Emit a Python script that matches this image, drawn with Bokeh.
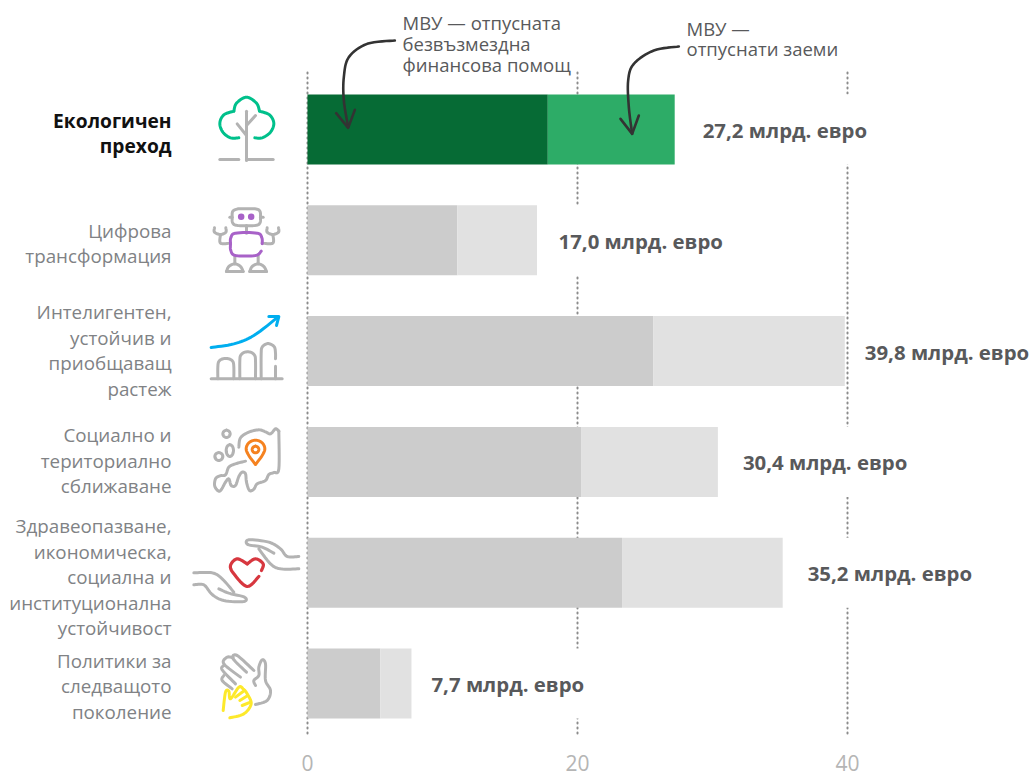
from bokeh.plotting import figure
from bokeh.models import Range1d, ColumnDataSource
from bokeh.core.properties import value
from bokeh.embed import file_html
from bokeh.resources import INLINE

# Recovery facility allocations by pillar, billions of euro
pillars = [
    ["Екологичен", "преход"],
    ["Цифрова", "трансформация"],
    ["Интелигентен,", "устойчив и", "приобщаващ", "растеж"],
    ["Социално и", "териториално", "сближаване"],
    ["Здравеопазване,", "икономическа,", "социална и", "институционална", "устойчивост"],
    ["Политики за", "следващото", "поколение"],
]
grants = [17.8, 11.1, 25.6, 20.3, 23.3, 5.4]
totals = [27.2, 17.0, 39.8, 30.4, 35.2, 7.7]
total_labels = ["27,2 млрд. евро", "17,0 млрд. евро", "39,8 млрд. евро",
                "30,4 млрд. евро", "35,2 млрд. евро", "7,7 млрд. евро"]
x_ticks = [0, 20, 40]

FONT = "Open Sans"
W, H = 1032, 776
X0, PX_PER_UNIT = 307.0, 13.5
ROW0, ROW_STEP = 129.0, 110.8


def xd(px):
    return (px - X0) / PX_PER_UNIT


def yd(py):
    return (py - ROW0) / ROW_STEP


p = figure(width=W, height=H,
           x_range=Range1d(xd(0), xd(W)), y_range=Range1d(yd(H), yd(0)),
           output_backend="svg", toolbar_location=None,
           min_border=0, min_border_left=0, min_border_right=0,
           min_border_top=0, min_border_bottom=0,
           outline_line_color=None, background_fill_color="white",
           border_fill_color="white", x_axis_location=None, y_axis_location=None)
p.grid.visible = False

# Dotted reference lines behind the bars, with their scale values underneath
p.segment(x0=x_ticks, x1=x_ticks, y0=[yd(72)] * 3, y1=[yd(737)] * 3,
          line_color="#8c8c8c", line_width=2, line_dash="1 4", line_cap="round")
p.text(x=x_ticks, y=[yd(762)] * 3, text=[str(t) for t in x_ticks],
       text_font=value(FONT), text_font_size="21px", text_color="#b5b5b5",
       text_align="center", text_baseline="middle")

# Stacked bars: grants first, loans on top; the first pillar is highlighted
rows = list(range(len(totals)))
BAR_H = 70 / ROW_STEP
grant_colors = ["#066b35"] + ["#cccccc"] * 5
loan_colors = ["#2dac67"] + ["#e1e1e1"] * 5
p.hbar(y=rows, left=[0] * 6, right=grants, height=BAR_H,
       fill_color=grant_colors, line_color=None)
p.hbar(y=rows, left=grants, right=totals, height=BAR_H,
       fill_color=loan_colors, line_color=None)

# Total labels to the right of each bar, on a white band that interrupts the dotted lines
gaps = [28, 21.5, 20, 25, 25, 20]
label_widths = [164, 164, 164, 164, 164, 153]
band_left = [t + g / PX_PER_UNIT for t, g in zip(totals, gaps)]
band_right = [b + w / PX_PER_UNIT for b, w in zip(band_left, label_widths)]
p.hbar(y=rows, left=band_left, right=band_right, height=BAR_H,
       fill_color="white", line_color=None)
p.text(x=totals, y=rows, text=total_labels, x_offset=gaps, y_offset=[0.5] * 6,
       text_font=value(FONT), text_font_style="bold", text_font_size="20.4px",
       text_color="#58595b", text_align="left", text_baseline="middle")

# Pillar names, one glyph per line, right-aligned
shifts = [3.5, 3, -0.5, -1, 4.5, 2.5]
LINE_GAP = 25.5
names, ny, noff, ncol, nstyle, nsize = [], [], [], [], [], []
for i, lines in enumerate(pillars):
    for j, s in enumerate(lines):
        names.append(s)
        ny.append(i)
        noff.append(shifts[i] + (j - (len(lines) - 1) / 2) * LINE_GAP)
        ncol.append("#111111" if i == 0 else "#808285")
        nstyle.append("bold" if i == 0 else "normal")
        nsize.append("19.2px" if i == 0 else "18.8px")
src = ColumnDataSource(dict(x=[xd(171)] * len(names), y=ny, t=names, o=noff, c=ncol, s=nstyle, z=nsize))
p.text(x="x", y="y", text="t", y_offset="o", text_color="c", text_font_style="s",
       text_font_size="z", source=src, text_font=value(FONT),
       text_align="right", text_baseline="middle")

# Callout texts
callouts = [(402, 22, "МВУ — отпусната"), (402, 43, "безвъзмездна"),
            (402, 64, "финансова помощ"), (686, 28, "МВУ —"), (686, 48, "отпуснати заеми")]
p.text(x=[xd(c[0]) for c in callouts], y=[yd(c[1]) for c in callouts],
       text=[c[2] for c in callouts], text_font=value(FONT), text_font_size="18.5px",
       text_color="#58595b", text_align="left", text_baseline="middle")


def smooth(pts, n=8):
    """Catmull-Rom sampling of a stroke, so hand-drawn shapes stay round."""
    if len(pts) < 3:
        return list(pts)
    out = []
    P = [pts[0]] + list(pts) + [pts[-1]]
    for i in range(1, len(P) - 2):
        a, b, c, d = P[i - 1], P[i], P[i + 1], P[i + 2]
        for k in range(n):
            t = k / n
            f = lambda q: 0.5 * (2 * b[q] + (c[q] - a[q]) * t
                                 + (2 * a[q] - 5 * b[q] + 4 * c[q] - d[q]) * t * t
                                 + (3 * b[q] - a[q] - 3 * c[q] + d[q]) * t ** 3)
            out.append((f(0), f(1)))
    out.append(pts[-1])
    return out


def ring(cx, cy, rx, ry=None):
    ry = rx if ry is None else ry
    return [(cx, cy - ry), (cx + .7 * rx, cy - .7 * ry), (cx + rx, cy), (cx + .7 * rx, cy + .7 * ry),
            (cx, cy + ry), (cx - .7 * rx, cy + .7 * ry), (cx - rx, cy), (cx - .7 * rx, cy - .7 * ry),
            (cx, cy - ry)]


def draw(strokes, ox, oy, color, width=3, scale=1 / 3, curved=True):
    xs, ys = [], []
    for s in strokes:
        pts = smooth(s) if curved else s
        xs.append([xd(ox + a * scale) for a, _ in pts])
        ys.append([yd(oy + b * scale) for _, b in pts])
    p.multi_line(xs, ys, line_color=color, line_width=width, line_cap="round", line_join="round")


GRAY = "#b3b3b3"

# Tree icon
draw([[(145, 172), (120, 172), (97, 155), (88, 128), (100, 103), (130, 92)],
      [(130, 92), (138, 68), (168, 50), (198, 68), (207, 92)],
      [(207, 92), (237, 103), (250, 128), (240, 155), (215, 172), (193, 172)]],
     190, 80, "#00c08b")
draw([[(168, 240), (168, 92)], [(140, 130), (168, 165)], [(195, 105), (168, 135)],
      [(88, 237), (145, 237)], [(168, 237), (248, 237)]], 190, 80, GRAY, curved=False)

# Robot icon
draw([[(142, 385), (193, 385), (208, 392), (210, 410), (208, 428), (193, 435), (142, 435), (127, 428), (125, 410), (127, 392), (142, 385)],
      [(118, 410), (125, 410)], [(210, 410), (218, 410)],
      [(120, 488), (90, 488), (90, 462)], [(72, 442), (72, 455), (90, 462), (106, 455), (106, 442)],
      [(215, 488), (247, 488), (247, 462)], [(230, 442), (230, 455), (247, 462), (264, 455), (264, 442)],
      [(133, 525), (133, 550)], [(203, 525), (203, 550)],
      [(108, 573), (115, 558), (133, 550), (150, 558), (158, 573)], [(108, 573), (158, 573)],
      [(178, 573), (185, 558), (203, 550), (220, 558), (228, 573)], [(178, 573), (228, 573)],
      [(168, 435), (168, 458)]],
     190, 80, GRAY)
draw([[(215, 490), (214, 472), (200, 458), (135, 458), (121, 472), (120, 490), (121, 510), (135, 525), (195, 525), (212, 512)]],
     190, 80, "#a862c8")
p.scatter([xd(190 + 152 / 3), xd(190 + 182 / 3)], [yd(80 + 409 / 3)] * 2,
          size=6.5, fill_color="#a862c8", line_color=None)

# Growth chart icon
draw([[(62, 141), (130, 130), (190, 105), (262, 50)]], 190, 300, "#00aeef")
draw([[(235, 48), (265, 48), (258, 75)]], 190, 300, "#00aeef", curved=False)
draw([[(62, 235), (275, 235)]], 190, 300, GRAY, curved=False)
draw([[(82, 235), (82, 200), (85, 183), (97, 175), (115, 175), (127, 183), (130, 200), (130, 235)],
      [(148, 235), (148, 180), (151, 164), (163, 155), (180, 155), (192, 164), (195, 180), (195, 235)],
      [(212, 235), (212, 160), (215, 140), (228, 130), (240, 131), (252, 140), (255, 158), (255, 175)],
      [(255, 197), (255, 235)]], 190, 300, GRAY)

# Map icon
draw([[(145, 440), (150, 412), (175, 395), (205, 388), (225, 394), (240, 400), (255, 385), (265, 392)],
      [(265, 392), (265, 505), (250, 516), (235, 522), (225, 540), (200, 550), (190, 566), (177, 570),
       (168, 545), (165, 520), (155, 515), (145, 528), (135, 555), (122, 555), (115, 535), (105, 545),
       (88, 572), (73, 558), (75, 535), (88, 526), (105, 523), (115, 500), (135, 490), (165, 482)],
      ring(108, 400, 11), ring(85, 468, 12), ring(118, 450, 11, 18)], 190, 300, GRAY)
draw([[(195, 492), (175, 465), (167, 445), (175, 427), (195, 419), (215, 427), (223, 445), (215, 465), (195, 492)],
      ring(195, 447, 10)], 190, 300, "#f58220")

# Caring hands icon
draw([[(325, 145), (270, 145), (240, 130), (205, 85)],
      [(325, 108), (290, 108), (270, 85), (235, 65), (175, 58), (172, 72), (215, 80), (250, 98)],
      [(10, 157), (65, 157), (95, 175), (130, 215)],
      [(10, 193), (40, 193), (65, 222), (100, 240), (160, 243), (162, 230), (115, 218), (85, 205)]],
     190, 520, GRAY)
draw([[(205, 168), (170, 198), (130, 160), (120, 135), (140, 115), (170, 130)],
      [(170, 130), (195, 115), (218, 130), (213, 150)]], 190, 520, "#d7373f", width=3.2)

# Raised hands icon
draw([[(195, 552), (230, 540), (240, 510), (225, 480), (225, 430), (215, 418), (205, 440), (205, 465), (190, 480), (195, 495)],
      [(190, 450), (140, 405), (128, 415), (168, 455)],
      [(128, 412), (110, 410), (100, 430), (150, 470)],
      [(100, 435), (95, 448), (135, 490)],
      [(100, 465), (95, 480), (125, 505)]], 190, 520, GRAY)
draw([[(98, 570), (105, 515), (115, 512), (120, 535), (145, 500), (158, 505), (170, 520), (182, 550), (160, 580), (118, 592)],
      [(135, 530), (162, 510)], [(148, 540), (172, 525)], [(155, 555), (180, 545)]],
     190, 520, "#fde92b")

# Callout arrows
INK = "#333333"
draw([[(283, 120), (200, 130), (145, 170), (130, 230), (130, 300), (143, 380)]], 300, 0, INK, width=2.6)
draw([[(107, 338), (143, 382), (163, 328)]], 300, 0, INK, width=2.6, curved=False)
draw([[(1135, 138), (1060, 150), (1000, 190), (983, 240), (985, 320), (995, 400)]], 300, 0, INK, width=2.6)
draw([[(960, 355), (995, 400), (1015, 345)]], 300, 0, INK, width=2.6, curved=False)

open("out.html", "w").write(file_html(p, INLINE))
